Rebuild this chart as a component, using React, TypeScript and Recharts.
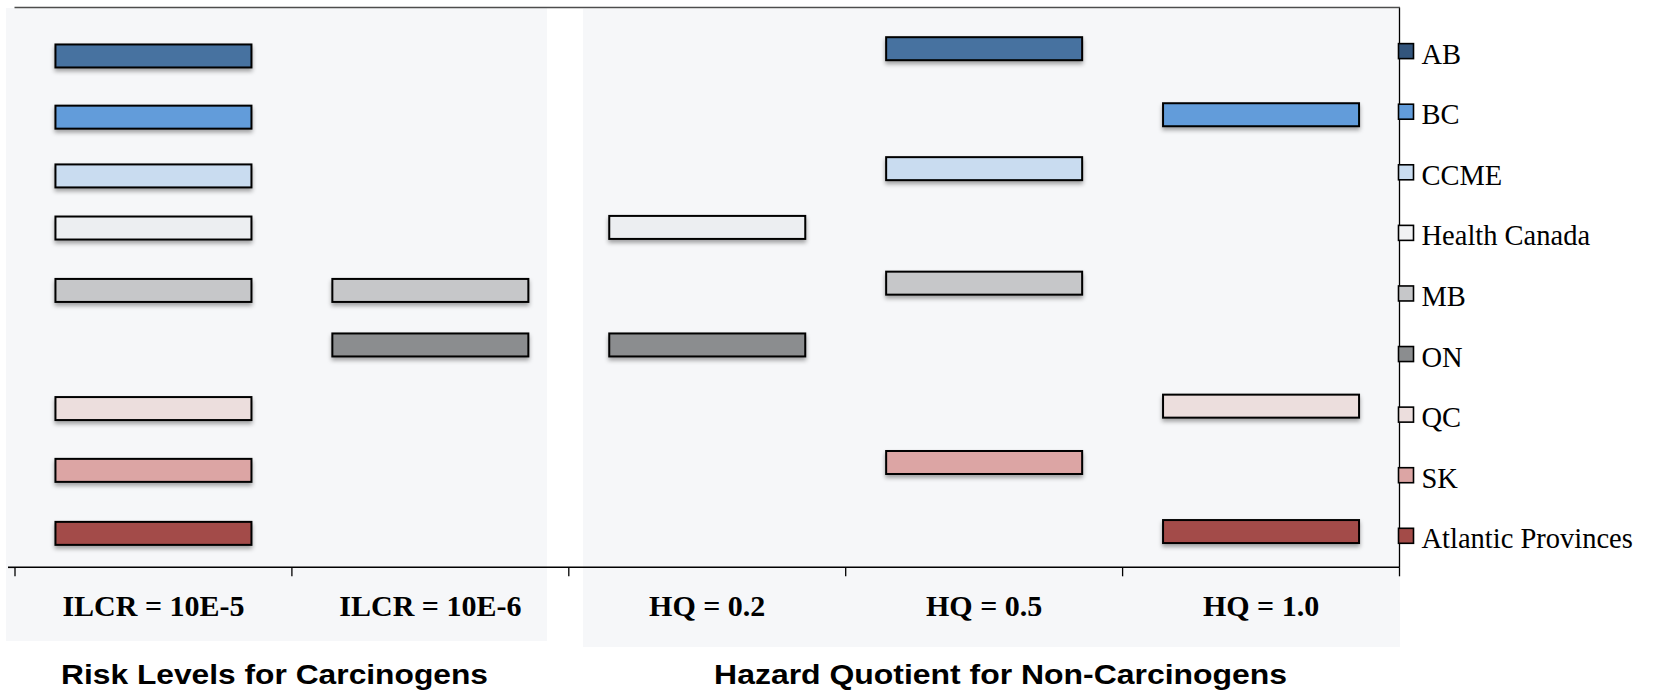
import React from 'react';
import { ScatterChart, Scatter, XAxis, YAxis } from 'recharts';

// ---------- data ----------
const categories = ['ILCR = 10E-5', 'ILCR = 10E-6', 'HQ = 0.2', 'HQ = 0.5', 'HQ = 1.0'];
const agencies = ['AB', 'BC', 'CCME', 'Health Canada', 'MB', 'ON', 'QC', 'SK', 'Atlantic Provinces'];
const legendRows = [9, 8, 7, 6, 5, 4, 3, 2, 1];

// vertical placement of each agency's bar per category (null = no bar)
const abLevels = [8.92, null, null, 9.04, null];
const bcLevels = [7.91, null, null, null, 7.95];
const ccmeLevels = [6.94, null, null, 7.06, null];
const hcLevels = [6.08, null, 6.09, null, null];
const mbLevels = [5.05, 5.05, null, 5.17, null];
const onLevels = [null, 4.15, 4.15, null, null];
const qcLevels = [3.1, null, null, null, 3.14];
const skLevels = [2.08, null, null, 2.21, null];
const atlLevels = [1.04, null, null, null, 1.07];

const barColors = ['#4672a0', '#629cda', '#c9dcf0', '#eceef1', '#c6c7c9', '#8b8d8f', '#ecdedd', '#dca5a4', '#a34b48'];
const legendColors = ['#33557c', '#629cda', '#c9dcf0', '#f1f2f4', '#c6c7c9', '#8b8d8f', '#ecdedd', '#dca5a4', '#a34b48'];

const allLevels = [abLevels, bcLevels, ccmeLevels, hcLevels, mbLevels, onLevels, qcLevels, skLevels, atlLevels];

const seriesData = agencies.map((name, a) => ({
  name,
  color: barColors[a],
  points: categories
    .map((c, i) => ({ x: i + 0.5, y: allLevels[a][i], cat: c }))
    .filter((p) => p.y !== null),
}));

const xTicks = [0, 0.5, 1, 1.5, 2, 2.5, 3, 3.5, 4, 4.5, 5];

// ---------- styling constants ----------
const W = 1657;
const H = 694;
const BAR_W = 196;
const BAR_H = 23;
const serif = '"Liberation Serif", "Times New Roman", serif';
const sans = '"Liberation Sans", Arial, sans-serif';

const BarMark = (props: any) => {
  const { cx, cy, fill } = props;
  if (cx == null || cy == null) return null;
  return (
    <rect
      x={cx - BAR_W / 2}
      y={cy - BAR_H / 2}
      width={BAR_W}
      height={BAR_H}
      fill={fill}
      stroke="#000"
      strokeWidth={2}
      filter="url(#barShadow)"
    />
  );
};

const XTick = (props: any) => {
  const { x, y, payload } = props;
  const v = payload.value;
  if (Number.isInteger(v)) {
    return <line x1={x} x2={x} y1={y} y2={y + 9} stroke="#000" strokeWidth={1.3} />;
  }
  const label = categories[Math.floor(v)];
  return (
    <text x={x} y={y + 48.4} textAnchor="middle" fontFamily={serif} fontWeight="bold" fontSize={30} fill="#000">
      {label}
    </text>
  );
};

const LegendTick = (props: any) => {
  const { x, y, payload } = props;
  const idx = legendRows.indexOf(payload.value);
  if (idx < 0) return null;
  return (
    <g>
      <rect x={x - 1} y={y - 7.5} width={15} height={15} fill={legendColors[idx]} stroke="#000" strokeWidth={1.6} />
      <text x={x + 22} y={y + 12.6} fontFamily={serif} fontSize={28.5} fill="#000">
        {agencies[idx]}
      </text>
    </g>
  );
};

export default function App() {
  return (
    <div style={{ position: 'absolute', left: 0, top: 0, width: W, height: H, background: '#fff' }}>
      <svg width={0} height={0} style={{ position: 'absolute' }}>
        <defs>
          <filter id="barShadow" x="-10%" y="-60%" width="120%" height="260%">
            <feDropShadow dx="0" dy="3" stdDeviation="2.2" floodColor="#000" floodOpacity="0.35" />
          </filter>
        </defs>
      </svg>
      {/* background panels */}
      <div style={{ position: 'absolute', left: 6, top: 8, width: 541, height: 633, background: '#f6f7f9' }} />
      <div style={{ position: 'absolute', left: 583, top: 9, width: 817, height: 638, background: '#f6f7f9' }} />
      <div style={{ position: 'absolute', left: 0, top: 0 }}>
        <ScatterChart width={W} height={H} margin={{ top: 7.5, right: 0, bottom: 0, left: 15 }}>
          <XAxis
            xAxisId="b"
            type="number"
            dataKey="x"
            domain={[0, 5]}
            ticks={xTicks}
            interval={0}
            height={126.7}
            tickSize={0}
            tickMargin={0}
            tickLine={false}
            tick={<XTick />}
            axisLine={{ stroke: '#000', strokeWidth: 1.6 }}
            allowDataOverflow
          />
          <YAxis
            yAxisId="l"
            type="number"
            dataKey="y"
            domain={[0.48, 9.72]}
            width={0}
            tick={false}
            tickLine={false}
            axisLine={{ stroke: '#333', strokeWidth: 1.3 }}
            allowDataOverflow
          />
          <YAxis
            yAxisId="r"
            orientation="right"
            type="number"
            domain={[0.48, 9.72]}
            ticks={legendRows}
            interval={0}
            width={257.5}
            tickSize={0}
            tickMargin={0}
            tickLine={false}
            tick={<LegendTick />}
            axisLine={{ stroke: '#000', strokeWidth: 1.3 }}
            allowDataOverflow
          />
          {seriesData.map((s) => (
            <Scatter
              key={s.name}
              name={s.name}
              data={s.points}
              xAxisId="b"
              yAxisId="l"
              fill={s.color}
              isAnimationActive={false}
              shape={(p: any) => <BarMark {...p} fill={s.color} />}
            />
          ))}
        </ScatterChart>
      </div>
      <svg width={W} height={H} style={{ position: 'absolute', left: 0, top: 0, pointerEvents: 'none' }}>
        {/* plot frame top edge and bottom-axis stub */}
        <line x1={14.5} x2={1400} y1={7.5} y2={7.5} stroke="#4d4d4d" strokeWidth={1.6} />
        <line x1={8} x2={15} y1={567.3} y2={567.3} stroke="#000" strokeWidth={1.6} />
        <text x={274.5} y={684} textAnchor="middle" fontFamily={sans} fontWeight="bold" fontSize={28}
          textLength={427} lengthAdjust="spacingAndGlyphs" fill="#000">
          Risk Levels for Carcinogens
        </text>
        <text x={1000.6} y={684} textAnchor="middle" fontFamily={sans} fontWeight="bold" fontSize={28}
          textLength={573} lengthAdjust="spacingAndGlyphs" fill="#000">
          Hazard Quotient for Non-Carcinogens
        </text>
      </svg>
    </div>
  );
}
